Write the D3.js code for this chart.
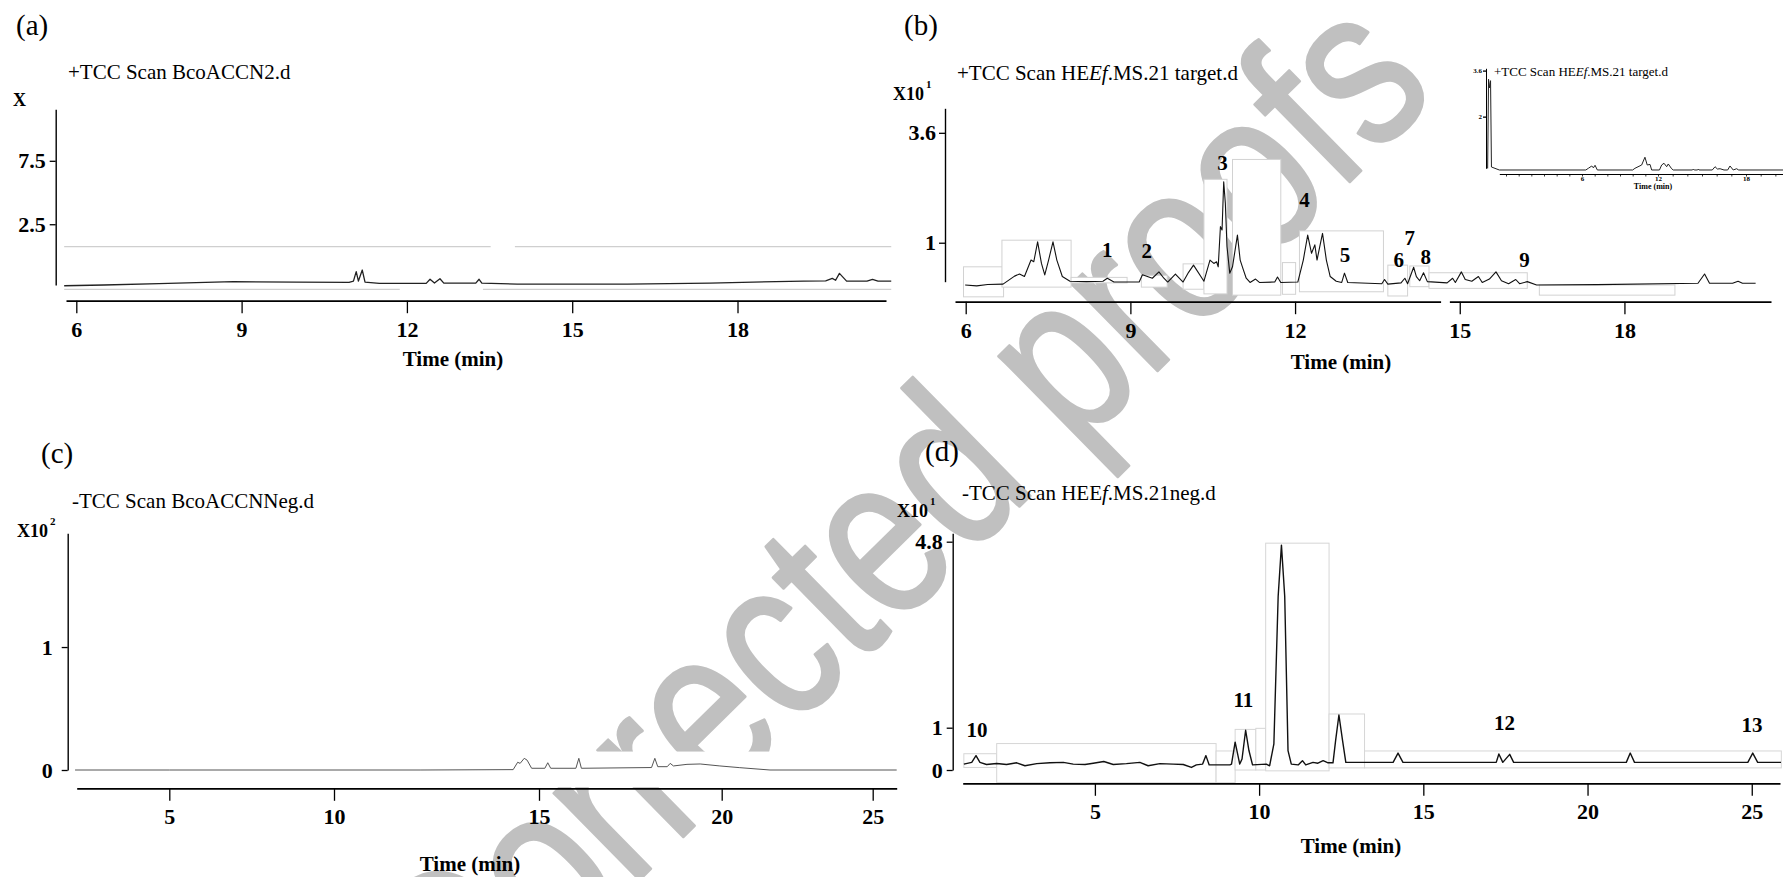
<!DOCTYPE html>
<html>
<head>
<meta charset="utf-8">
<script src="https://cdn.jsdelivr.net/npm/d3@7"></script>
<style>
  html, body { margin: 0; padding: 0; background: #fff; }
  svg { display: block; font-family: "Liberation Serif", "Times New Roman", serif; }
</style>
</head>
<body>
<svg id="fig" width="1783" height="877"></svg>
<script>
// ---- data (time in min, signal in axis units) ----

// (a) +TCC Scan BcoACCN2.d
const A_TIME   = [5.78, 6.5, 7.5, 8.85, 10.0, 10.95, 11.03, 11.08, 11.12, 11.19, 11.24, 11.5, 12.35, 12.42, 12.5, 12.6, 12.67, 13.25, 13.31, 13.36, 14.0, 16.0, 17.5, 19.2, 19.6, 19.72, 19.78, 19.85, 19.98, 20.35, 20.45, 20.55, 20.79];
const A_SIGNAL = [-2.35, -2.29, -2.18, -2.03, -2.06, -2.08, -1.98, -1.24, -1.98, -1.11, -2.06, -2.16, -2.16, -1.84, -2.14, -1.80, -2.14, -2.14, -1.84, -2.14, -2.22, -2.22, -2.14, -1.98, -1.96, -1.77, -1.92, -1.37, -1.98, -1.98, -1.84, -1.98, -1.98];
const A_GUIDES = [[5.78, 13.52, 0.73], [13.96, 20.79, 0.73], [5.78, 11.87, -2.63], [13.38, 20.79, -2.63]];

// (b) +TCC Scan HEEf.MS.21 target.d
const B_TIME   = [5.99, 6.2, 6.4, 6.68, 6.89, 6.98, 7.07, 7.19, 7.24, 7.31, 7.38, 7.44, 7.51, 7.59, 7.66, 7.76, 7.90, 8.2, 8.50, 8.58, 8.70, 9.16, 9.22, 9.40, 9.52, 9.61, 9.68, 9.82, 9.96, 10.06, 10.15, 10.34, 10.45, 10.52, 10.57, 10.60, 10.64, 10.67, 10.70, 10.73, 10.76, 10.81, 10.86, 10.95, 11.00, 11.06, 11.11, 11.18, 11.28, 11.35, 11.63, 11.68, 11.74, 12.05, 12.15, 12.23, 12.30, 12.36, 12.40, 12.45, 12.50, 12.57, 12.64, 12.75, 12.85, 12.90, 12.96, 13.58, 13.63, 13.69, 13.93, 14.00, 14.05, 14.16, 14.21, 14.27, 14.34, 14.41, 14.77, 14.87, 14.92, 15.03, 15.10, 15.22, 15.34, 15.41, 15.54, 15.66, 15.76, 15.89, 16.02, 16.09, 16.23, 16.40, 17.5, 19.34, 19.46, 19.55, 19.97, 20.07, 20.15, 20.39];
const B_SIGNAL = [0.00, -0.02, 0.01, 0.02, 0.21, 0.26, 0.20, 0.59, 0.55, 1.02, 0.51, 0.24, 0.59, 1.02, 0.59, 0.20, 0.09, 0.08, 0.09, 0.16, 0.07, 0.07, 0.24, 0.16, 0.31, 0.16, 0.07, 0.26, 0.07, 0.30, 0.47, 0.09, 0.59, 0.51, 0.55, 0.43, 1.38, 1.30, 2.44, 1.93, 0.91, 0.28, 0.43, 1.18, 0.59, 0.35, 0.16, 0.06, 0.14, 0.06, 0.07, 0.19, 0.06, 0.07, 0.59, 1.18, 0.75, 0.95, 0.59, 0.91, 1.22, 0.59, 0.20, 0.09, 0.06, 0.28, 0.06, 0.03, 0.13, 0.02, 0.05, 0.16, 0.03, 0.42, 0.20, 0.10, 0.29, 0.08, 0.05, 0.16, 0.06, 0.31, 0.13, 0.09, 0.20, 0.06, 0.14, 0.31, 0.10, 0.03, 0.13, 0.03, 0.08, 0.00, 0.01, 0.04, 0.26, 0.04, 0.04, 0.09, 0.04, 0.04];
// [start, end, top, bottom] of the pasted frames left in the figure
const B_BOXES = [[5.96, 6.69, 0.43, -0.28], [6.66, 7.92, 1.06, -0.05], [7.92, 8.94, 0.18, 0.05], [9.20, 9.67, 0.23, -0.05], [9.96, 10.34, 0.50, -0.10], [10.34, 10.76, 2.50, -0.21], [10.86, 11.74, 2.97, -0.24], [11.77, 12.01, 0.53, -0.22], [12.08, 13.61, 1.28, -0.16], [13.69, 14.05, 0.47, -0.26], [14.09, 14.44, 0.45, -0.04], [14.44, 16.23, 0.29, -0.08], [16.45, 18.92, 0.0, -0.24]];
const B_AXIS_GAP = [14.66, 14.82];
const B_PEAK_IDS   = ['1', '2', '3', '4', '5', '6', '7', '8', '9'];
const B_PEAK_TIME  = [8.58, 9.30, 10.68, 12.17, 12.91, 13.89, 14.09, 14.38, 16.18];
const B_PEAK_LEVEL = [0.67, 0.64, 2.72, 1.84, 0.55, 0.43, 0.95, 0.50, 0.43];

// inset of (b)
const INSET_TIME   = [-1.45, -1.38, -1.30, -1.22, -1.15, -0.53, 6.3, 6.50, 6.77, 6.9, 7.03, 7.21, 10.0, 10.18, 10.71, 10.97, 11.15, 11.37, 11.50, 12.1, 12.25, 12.41, 12.59, 12.70, 12.93, 13.04, 14.35, 14.41, 14.47, 14.7, 14.75, 14.8, 15.7, 15.89, 16.05, 16.23, 16.5, 16.75, 16.91, 17.13, 17.36, 17.5, 20.52];
const INSET_SIGNAL = [0.2, 3.3, 3.0, 3.25, 0.25, 0.146, 0.146, 0.205, 0.285, 0.22, 0.31, 0.146, 0.146, 0.205, 0.32, 0.59, 0.32, 0.34, 0.146, 0.146, 0.32, 0.38, 0.26, 0.355, 0.19, 0.146, 0.146, 0.18, 0.146, 0.146, 0.18, 0.146, 0.146, 0.26, 0.18, 0.19, 0.146, 0.146, 0.285, 0.146, 0.19, 0.146, 0.146];
const INSET_X_LABELS = [6, 12, 18];

// (c) -TCC Scan BcoACCNNeg.d
const C_TIME   = [2.14, 5, 10, 12.1, 14.37, 14.48, 14.54, 14.64, 14.71, 14.82, 15.16, 15.24, 15.32, 16.01, 16.09, 16.16, 18.08, 18.17, 18.25, 18.51, 18.59, 18.68, 19.05, 19.41, 19.95, 20.6, 21.6, 25.79];
const C_SIGNAL = [0.0, 0.0, 0.0, 0.0, 0.003, 0.063, 0.054, 0.095, 0.08, 0.014, 0.014, 0.059, 0.014, 0.014, 0.095, 0.014, 0.02, 0.095, 0.027, 0.027, 0.054, 0.033, 0.046, 0.049, 0.033, 0.019, 0.0, 0.0];
const C_BOXES = [[10.0, 25.8, 0.15, -0.14]];

// (d) -TCC Scan HEEf.MS.21neg.d
const D_TIME   = [1.01, 1.25, 1.38, 1.50, 1.70, 2.01, 2.31, 2.62, 2.87, 3.23, 3.63, 4.04, 4.34, 4.70, 4.95, 5.27, 5.56, 5.96, 6.37, 6.62, 6.98, 7.38, 7.69, 7.94, 8.09, 8.28, 8.38, 8.48, 8.60, 9.11, 9.16, 9.27, 9.41, 9.48, 9.59, 9.69, 9.80, 10.22, 10.32, 10.45, 10.58, 10.68, 10.78, 10.88, 10.98, 11.19, 11.32, 11.42, 11.64, 11.79, 11.95, 12.10, 12.25, 12.33, 12.43, 12.54, 12.64, 14.08, 14.23, 14.38, 17.22, 17.30, 17.42, 17.63, 17.75, 21.18, 21.30, 21.43, 24.88, 25.03, 25.18, 25.89];
const D_SIGNAL = [0.14, 0.18, 0.34, 0.18, 0.13, 0.155, 0.13, 0.17, 0.10, 0.15, 0.17, 0.18, 0.14, 0.13, 0.16, 0.20, 0.13, 0.15, 0.18, 0.10, 0.15, 0.14, 0.13, 0.06, 0.12, 0.14, 0.34, 0.12, 0.12, 0.12, 0.14, 0.66, 0.14, 0.26, 0.94, 0.46, 0.12, 0.14, 0.10, 0.62, 3.68, 4.73, 3.68, 0.46, 0.14, 0.12, 0.22, 0.12, 0.18, 0.16, 0.22, 0.17, 0.17, 0.70, 1.26, 0.70, 0.18, 0.18, 0.40, 0.18, 0.18, 0.38, 0.18, 0.37, 0.18, 0.18, 0.40, 0.18, 0.18, 0.40, 0.18, 0.18];
const D_BOXES = [[1.01, 2.01, 0.385, 0.06], [2.01, 8.69, 0.625, -0.30], [8.69, 9.27, 0.45, -0.30], [9.27, 9.90, 0.96, 0.0], [9.90, 10.20, 0.985, 0.0], [10.20, 12.13, 4.77, -0.02], [12.13, 13.21, 1.28, 0.05], [13.21, 25.9, 0.45, 0.05]];
const D_PEAK_IDS   = ['10', '11', '12', '13'];
const D_PEAK_TIME  = [1.41, 9.52, 17.47, 25.01];
const D_PEAK_LEVEL = [0.78, 1.43, 0.945, 0.90];

// axis ticks
const A_X_TICKS = [6, 9, 12, 15, 18];
const A_Y_TICKS = [2.5, 7.5];
const B_X_TICKS = [6, 9, 12, 15, 18];
const B_Y_TICKS = [1, 3.6];
const C_X_TICKS = [5, 10, 15, 20, 25];
const C_Y_TICKS = [0, 1];
const D_X_TICKS = [5, 10, 15, 20, 25];
const D_Y_TICKS = [0, 1, 4.8];
const INSET_Y_TICKS = [2, 3.6];

const svg = d3.select('#fig');
svg.append('rect').attr('width', 1783).attr('height', 877).attr('fill', '#fff');

// proof watermark sits underneath everything else (tall, narrow lettering)
svg.append('text')
  .attr('transform', 'translate(1440,93) rotate(-44.5) scale(0.8,1)')
  .attr('text-anchor', 'end')
  .attr('font-family', '"Liberation Sans", Arial, sans-serif')
  .attr('font-size', 230)
  .attr('fill', '#c0c0c0')
  .attr('stroke', '#c0c0c0')
  .attr('stroke-width', 3)
  .attr('stroke-linejoin', 'round')
  .text('Corrected proofs');

const zip = (xs, ys) => xs.map((x, i) => [x, ys[i]]);

function styleAxis(sel, fontSize, domainWidth) {
  sel.attr('font-family', null).attr('font-size', null);
  sel.select('.domain').attr('stroke', '#000').attr('stroke-width', domainWidth);
  sel.selectAll('.tick line').attr('stroke', '#000').attr('stroke-width', 1.3);
  sel.selectAll('.tick text').attr('fill', '#000').attr('font-size', fontSize).attr('font-weight', 'bold');
}

function drawPanel(p) {
  const g = svg.append('g');
  const { x, y } = p;

  g.selectAll('rect.frame')
    .data(p.boxes || [])
    .join('rect')
    .attr('class', 'frame')
    .attr('x', (d) => x(d[0]))
    .attr('y', (d) => y(d[2]))
    .attr('width', (d) => x(d[1]) - x(d[0]))
    .attr('height', (d) => y(d[3]) - y(d[2]))
    .attr('fill', '#fff')
    .attr('stroke', p.frameStroke || 'none')
    .attr('stroke-width', 1);

  g.selectAll('line.guide')
    .data(p.guides || [])
    .join('line')
    .attr('class', 'guide')
    .attr('x1', (d) => x(d[0]))
    .attr('x2', (d) => x(d[1]))
    .attr('y1', (d) => y(d[2]))
    .attr('y2', (d) => y(d[2]))
    .attr('stroke', '#cfcfcf')
    .attr('stroke-width', 1.2);

  g.append('g')
    .attr('transform', `translate(0,${p.xAxisY})`)
    .call(d3.axisBottom(x).tickValues(p.xTicks).tickSize(12.5).tickSizeOuter(0).tickPadding(8).tickFormat(d3.format('d')))
    .call(styleAxis, 22, 1.7);

  if (p.axisGap) {
    g.append('rect')
      .attr('x', x(p.axisGap[0]))
      .attr('width', x(p.axisGap[1]) - x(p.axisGap[0]))
      .attr('y', p.xAxisY - 3)
      .attr('height', 6)
      .attr('fill', '#fff');
  }

  g.append('g')
    .attr('transform', `translate(${p.yAxisX},0)`)
    .call(d3.axisLeft(y).tickValues(p.yTicks).tickSize(6).tickSizeOuter(0).tickPadding(p.yPad).tickFormat(d3.format('~g')))
    .call(styleAxis, 22, 1.4);

  const line = d3.line().x((d) => x(d[0])).y((d) => y(d[1]));
  g.append('path')
    .datum(zip(p.time, p.signal))
    .attr('fill', 'none')
    .attr('stroke', p.traceColor)
    .attr('stroke-width', p.traceWidth)
    .attr('stroke-linejoin', 'round')
    .attr('d', line);

  if (p.peaks) {
    g.selectAll('text.peak')
      .data(p.peaks.ids.map((id, i) => ({ id, t: p.peaks.time[i], v: p.peaks.level[i] })))
      .join('text')
      .attr('class', 'peak')
      .attr('x', (d) => x(d.t))
      .attr('y', (d) => y(d.v))
      .attr('text-anchor', 'middle')
      .attr('font-size', 21)
      .attr('font-weight', 'bold')
      .text((d) => d.id);
  }

  g.append('text').attr('x', p.letterPos[0]).attr('y', p.letterPos[1]).attr('font-size', 29).text(p.letter);

  const title = g.append('text').attr('x', p.titlePos[0]).attr('y', p.titlePos[1]).attr('font-size', 21);
  p.title.forEach(([s, it]) => title.append('tspan').attr('font-style', it ? 'italic' : null).text(s));

  const unit = g.append('text').attr('x', p.unitPos[0]).attr('y', p.unitPos[1]).attr('font-size', 18).attr('font-weight', 'bold');
  unit.append('tspan').text(p.unit);
  if (p.unitExp) unit.append('tspan').attr('dy', -12).attr('dx', 2).attr('font-size', 11).text(p.unitExp);

  g.append('text')
    .attr('x', p.timePos[0]).attr('y', p.timePos[1])
    .attr('text-anchor', 'middle').attr('font-size', 21).attr('font-weight', 'bold')
    .text('Time (min)');
  return g;
}

drawPanel({
  x: d3.scaleLinear().domain([5.813, 20.695]).range([66, 886]),
  y: d3.scaleLinear().domain([-2.29, 11.56]).range([285, 109.3]),
  xAxisY: 300.7, yAxisX: 55.7, yPad: 4,
  xTicks: A_X_TICKS, yTicks: A_Y_TICKS,
  time: A_TIME, signal: A_SIGNAL, traceColor: '#222', traceWidth: 1.3,
  guides: A_GUIDES,
  letter: '(a)', letterPos: [16, 35],
  title: [['+TCC Scan BcoACCN2.d', false]], titlePos: [68, 79],
  unit: 'X', unitPos: [13, 106],
  timePos: [453, 366],
});

drawPanel({
  x: d3.scaleLinear().domain([5.805, 20.67]).range([955, 1771]),
  y: d3.scaleLinear().domain([0.078, 4.18]).range([281.7, 108.3]),
  xAxisY: 301.7, yAxisX: 945, yPad: 3,
  xTicks: B_X_TICKS, yTicks: B_Y_TICKS,
  time: B_TIME, signal: B_SIGNAL, traceColor: '#111', traceWidth: 1.1,
  boxes: B_BOXES, frameStroke: '#d2d2d2', axisGap: B_AXIS_GAP,
  peaks: { ids: B_PEAK_IDS, time: B_PEAK_TIME, level: B_PEAK_LEVEL },
  letter: '(b)', letterPos: [904, 35],
  title: [['+TCC Scan HE', false], ['Ef', true], ['.MS.21 target.d', false]], titlePos: [957, 80],
  unit: 'X10', unitExp: '1', unitPos: [893, 100],
  timePos: [1341, 369],
});

drawPanel({
  x: d3.scaleLinear().domain([2.19, 5, 10, 15, 20, 25, 25.79]).range([76.7, 169.3, 334, 539, 721.7, 872.7, 896.7]),
  y: d3.scaleLinear().domain([0, 1.925]).range([770, 533.3]),
  xAxisY: 788.3, yAxisX: 67.7, yPad: 9,
  xTicks: C_X_TICKS, yTicks: C_Y_TICKS,
  time: C_TIME, signal: C_SIGNAL, traceColor: '#555', traceWidth: 1,
  boxes: C_BOXES,
  letter: '(c)', letterPos: [41, 463],
  title: [['-TCC Scan BcoACCNNeg.d', false]], titlePos: [72, 508],
  unit: 'X10', unitExp: '2', unitPos: [17, 537],
  timePos: [470, 871],
});

drawPanel({
  x: d3.scaleLinear().domain([0.975, 25.86]).range([962.7, 1780]),
  y: d3.scaleLinear().domain([0, 1, 4.8, 4.97]).range([770, 727.7, 541.7, 533.3]),
  xAxisY: 783.3, yAxisX: 952.7, yPad: 4,
  xTicks: D_X_TICKS, yTicks: D_Y_TICKS,
  time: D_TIME, signal: D_SIGNAL, traceColor: '#111', traceWidth: 1.4,
  boxes: D_BOXES, frameStroke: '#d6d6d6',
  peaks: { ids: D_PEAK_IDS, time: D_PEAK_TIME, level: D_PEAK_LEVEL },
  letter: '(d)', letterPos: [925, 461],
  title: [['-TCC Scan HEE', false], ['f', true], ['.MS.21neg.d', false]], titlePos: [962, 500],
  unit: 'X10', unitExp: '1', unitPos: [897, 517],
  timePos: [1351, 853],
});

// small overview inset in the top-right corner of (b)
(function drawInset() {
  const g = svg.append('g');
  const x = d3.scaleLinear().domain([-0.53, 6, 12, 18, 20.52]).range([1499.3, 1582, 1658, 1746, 1783]);
  const y = d3.scaleLinear().domain([0.205, 3.68]).range([168.3, 68.3]);

  g.append('g')
    .attr('transform', 'translate(0,174)')
    .call(d3.axisBottom(x).tickValues(d3.range(0, 21)).tickSize(2.5).tickSizeOuter(0).tickPadding(0)
      .tickFormat((d) => (INSET_X_LABELS.includes(d) ? d : '')))
    .call(styleAxis, 7, 1.2);
  g.selectAll('.tick line').attr('stroke-width', 0.8);

  g.append('g')
    .attr('transform', 'translate(1486,0)')
    .call(d3.axisLeft(y).tickValues(INSET_Y_TICKS).tickSize(3).tickSizeOuter(0).tickPadding(1).tickFormat(d3.format('~g')))
    .call(styleAxis, 7, 1);

  g.append('path')
    .datum(zip(INSET_TIME, INSET_SIGNAL))
    .attr('fill', 'none')
    .attr('stroke', '#222')
    .attr('stroke-width', 1)
    .attr('d', d3.line().x((d) => x(d[0])).y((d) => y(d[1])));

  const t = g.append('text').attr('x', 1494).attr('y', 76).attr('font-size', 13);
  t.append('tspan').text('+TCC Scan HE');
  t.append('tspan').attr('font-style', 'italic').text('Ef');
  t.append('tspan').text('.MS.21 target.d');

  g.append('text').attr('x', 1653).attr('y', 189).attr('text-anchor', 'middle')
    .attr('font-size', 8).attr('font-weight', 'bold').text('Time (min)');
})();
</script>
</body>
</html>
